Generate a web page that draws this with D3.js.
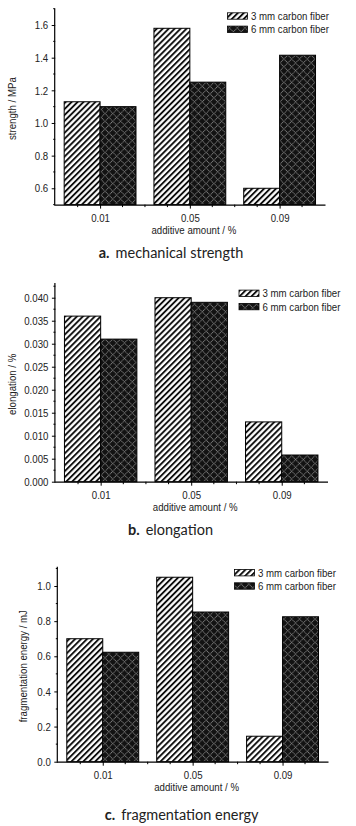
<!DOCTYPE html>
<html>
<head>
<meta charset="utf-8">
<script src="https://cdn.jsdelivr.net/npm/d3@7"></script>
<style>
  html, body { margin: 0; padding: 0; background: #fff; }
  svg { display: block; }
</style>
</head>
<body>
<svg id="chart" width="356" height="826"></svg>
<script>
// ---------- data ----------
const categories = [0.01, 0.05, 0.09];
const categoryLabels = ["0.01", "0.05", "0.09"];
const seriesNames = ["3 mm carbon fiber", "6 mm carbon fiber"];

const strength3mm = [1.13, 1.58, 0.60];
const strength6mm = [1.10, 1.25, 1.415];
const strengthTicks = [0.6, 0.8, 1.0, 1.2, 1.4, 1.6];
const strengthDomain = [0.5, 1.7];

const elongation3mm = [0.036, 0.040, 0.013];
const elongation6mm = [0.031, 0.039, 0.0058];
const elongationTicks = [0, 0.005, 0.010, 0.015, 0.020, 0.025, 0.030, 0.035, 0.040];
const elongationDomain = [0, 0.0432];

const energy3mm = [0.70, 1.05, 0.145];
const energy6mm = [0.623, 0.852, 0.825];
const energyTicks = [0, 0.2, 0.4, 0.6, 0.8, 1.0];
const energyDomain = [0, 1.11];

const xMinorTicks = [0.00, 0.01, 0.02, 0.03, 0.04, 0.05, 0.06, 0.07, 0.08, 0.09, 0.10];
const xDomain = [-0.01, 0.11];
const barWidthUnits = 0.016;

const titles = {
  x: "additive amount / %",
  a: "strength / MPa", b: "elongation / %", c: "fragmentation energy / mJ"
};
const captions = [
  ["a.", "mechanical strength"],
  ["b.", "elongation"],
  ["c.", "fragmentation energy"]
];

// ---------- layout ----------
const svg = d3.select("#chart");
const FONT = "'Liberation Sans', Arial, sans-serif";
const CONDENSE = 0.84;

const defs = svg.append("defs");
const hatch = defs.append("pattern").attr("id", "hatch")
  .attr("patternUnits", "userSpaceOnUse").attr("width", 4.2).attr("height", 4.2)
  .attr("patternTransform", "rotate(45)");
hatch.append("rect").attr("width", 4.2).attr("height", 4.2).attr("fill", "#fff");
hatch.append("line").attr("x1", 1).attr("x2", 1).attr("y1", 0).attr("y2", 4.2)
  .attr("stroke", "#000").attr("stroke-width", 1.8);

const cross = defs.append("pattern").attr("id", "cross")
  .attr("patternUnits", "userSpaceOnUse").attr("width", 5.5).attr("height", 5.5)
  .attr("patternTransform", "rotate(45)");
cross.append("rect").attr("width", 5.5).attr("height", 5.5).attr("fill", "#121212");
cross.append("line").attr("x1", 0).attr("x2", 5.5).attr("y1", 0.5).attr("y2", 0.5)
  .attr("stroke", "#909090").attr("stroke-width", 0.8).attr("stroke-dasharray", "1.2,0.6");
cross.append("line").attr("x1", 0.5).attr("x2", 0.5).attr("y1", 0).attr("y2", 5.5)
  .attr("stroke", "#909090").attr("stroke-width", 0.8).attr("stroke-dasharray", "1.2,0.6");

function condense(sel, k) {
  sel.each(function () {
    const len = this.getComputedTextLength();
    d3.select(this).attr("textLength", len * (k || CONDENSE)).attr("lengthAdjust", "spacingAndGlyphs");
  });
}

const panels = [
  { key: "a", s3: strength3mm, s6: strength6mm, ticks: strengthTicks, domain: strengthDomain,
    minorStep: 0.1, fmt: d3.format(".1f"),
    axisX: 55.2, xEnd: 324.5, yTop: 8.7, yBottom: 204.6, titleX: 12, legX: 227.5, legY: 16,
    capY: 258, capX: 171 },
  { key: "b", s3: elongation3mm, s6: elongation6mm, ticks: elongationTicks, domain: elongationDomain,
    minorStep: 0.0025, fmt: d3.format(".3f"),
    axisX: 55.4, xEnd: 327, yTop: 283, yBottom: 481.7, titleX: 12, legX: 239, legY: 293.3,
    capY: 535, capX: 170.5 },
  { key: "c", s3: energy3mm, s6: energy6mm, ticks: energyTicks, domain: energyDomain,
    minorStep: 0.1, fmt: d3.format(".1f"),
    axisX: 57.8, xEnd: 327.5, yTop: 566.7, yBottom: 761.7, titleX: 22.5, legX: 234.5, legY: 572.7,
    capY: 819.5, capX: 181.7 }
];

panels.forEach((p, pi) => {
  const g = svg.append("g");
  const x = d3.scaleLinear().domain(xDomain).range([p.axisX, p.xEnd]);
  const y = d3.scaleLinear().domain(p.domain).range([p.yBottom, p.yTop]);

  // bars
  const series = [
    { values: p.s3, fill: "url(#hatch)", offset: -barWidthUnits },
    { values: p.s6, fill: "url(#cross)", offset: 0 }
  ];
  series.forEach(s => {
    g.selectAll(null).data(categories).enter().append("rect")
      .attr("x", (d) => x(d + s.offset))
      .attr("width", x(barWidthUnits) - x(0))
      .attr("y", (d, i) => y(s.values[i]))
      .attr("height", (d, i) => y(p.domain[0]) - y(s.values[i]))
      .attr("fill", s.fill)
      .attr("stroke", "#000").attr("stroke-width", 1);
  });

  // y axis
  const yAxis = d3.axisLeft(y).tickValues(p.ticks).tickFormat(p.fmt).tickSize(3.5).tickPadding(3.5);
  const ya = g.append("g").attr("transform", `translate(${p.axisX},0)`).call(yAxis);
  ya.select(".domain").attr("d", `M-0.5,${p.yTop}V${p.yBottom}`).attr("stroke", "#000").attr("stroke-width", 1.2);
  ya.selectAll(".tick line").attr("stroke", "#000");
  ya.selectAll("text").attr("font-family", FONT).attr("font-size", 11.5).attr("fill", "#222").call(condense);
  const yMinor = d3.range(p.domain[0], p.domain[1] + 1e-9, p.minorStep)
    .filter(v => !p.ticks.some(t => Math.abs(t - v) < 1e-9));
  g.selectAll(null).data(yMinor).enter().append("line")
    .attr("x1", p.axisX - 2).attr("x2", p.axisX)
    .attr("y1", d => y(d)).attr("y2", d => y(d))
    .attr("stroke", "#000").attr("stroke-width", 1);

  // x axis
  const xAxis = d3.axisBottom(x).tickValues(categories).tickFormat((d, i) => categoryLabels[i])
    .tickSize(4).tickPadding(5);
  const xa = g.append("g").attr("transform", `translate(0,${p.yBottom})`).call(xAxis);
  xa.select(".domain").attr("d", `M${p.axisX - 1},0.5H${p.xEnd + 1}`).attr("stroke", "#000").attr("stroke-width", 1.2);
  xa.selectAll(".tick line").attr("stroke", "#000");
  xa.selectAll("text").attr("font-family", FONT).attr("font-size", 11.5).attr("fill", "#222").call(condense);
  g.selectAll(null).data(xMinorTicks.filter(v => !categories.some(c => Math.abs(c - v) < 1e-9)))
    .enter().append("line")
    .attr("x1", d => x(d)).attr("x2", d => x(d))
    .attr("y1", p.yBottom).attr("y2", p.yBottom + 2.5)
    .attr("stroke", "#000").attr("stroke-width", 1);

  // axis titles
  g.append("text").attr("x", (p.axisX + p.xEnd) / 2 + 4).attr("y", p.yBottom + 29)
    .attr("text-anchor", "middle").attr("font-family", FONT).attr("font-size", 11.5).attr("fill", "#222")
    .text(titles.x).call(condense);
  g.append("text")
    .attr("transform", `translate(${p.titleX + 4},${(p.yTop + p.yBottom) / 2 + 2}) rotate(-90)`)
    .attr("text-anchor", "middle").attr("font-family", FONT).attr("font-size", 11.5).attr("fill", "#222")
    .text(titles[p.key]).call(condense);

  // legend
  seriesNames.forEach((name, i) => {
    const ly = p.legY + i * 13.3;
    g.append("rect").attr("x", p.legX).attr("y", ly - 3.2).attr("width", 20).attr("height", 6.4)
      .attr("fill", i === 0 ? "url(#hatch)" : "url(#cross)").attr("stroke", "#000").attr("stroke-width", 0.8);
    g.append("text").attr("x", p.legX + 23.5).attr("y", ly + 4)
      .attr("font-family", FONT).attr("font-size", 11.5).attr("fill", "#222")
      .text(name).call(condense);
  });

  // caption
  const cap = g.append("text").attr("x", p.capX).attr("y", p.capY).attr("text-anchor", "middle")
    .attr("font-family", "Lato, 'Open Sans', sans-serif").attr("font-size", 14.5).attr("fill", "#222");
  cap.append("tspan").attr("font-weight", "bold").text(captions[pi][0]);
  cap.append("tspan").attr("dx", 6).text(captions[pi][1]);
});
</script>
</body>
</html>
